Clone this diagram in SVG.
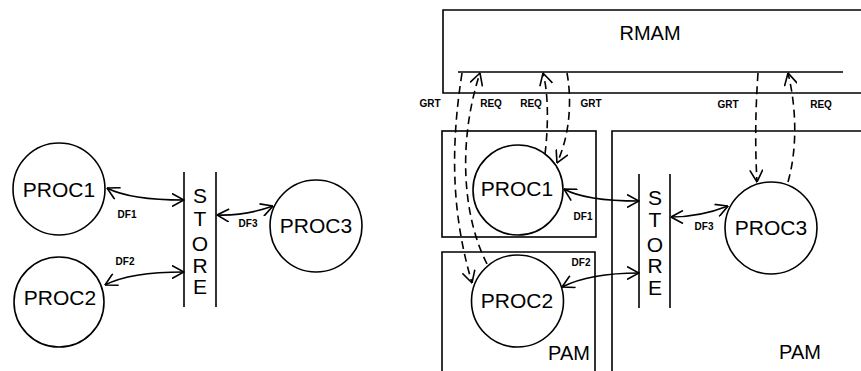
<svg xmlns="http://www.w3.org/2000/svg" width="861" height="371" viewBox="0 0 861 371">
<defs>
<marker id="ah" viewBox="0 0 13 14" refX="12.5" refY="7" markerWidth="13" markerHeight="14" markerUnits="userSpaceOnUse" orient="auto-start-reverse">
<path d="M0.5,0.5 L12.5,7 L0.5,13.5" fill="none" stroke="#000" stroke-width="1.6" stroke-linejoin="miter"/>
</marker>
<style>
.ln{fill:none;stroke:#000;stroke-width:1.6}
.fl{fill:none;stroke:#000;stroke-width:1.6;marker-start:url(#ah);marker-end:url(#ah)}
.ds{fill:none;stroke:#000;stroke-width:1.6;stroke-dasharray:8 5;marker-end:url(#ah)}
.big{font-family:"Liberation Sans",Arial,sans-serif;font-size:21px;fill:#000;text-anchor:middle}
.box{font-family:"Liberation Sans",Arial,sans-serif;font-size:20px;fill:#000;text-anchor:middle}
.sm{font-family:"Liberation Sans",Arial,sans-serif;font-size:10px;font-weight:bold;fill:#000;text-anchor:middle}
</style>
</defs>
<rect width="861" height="371" fill="#fff"/>

<!-- LEFT DIAGRAM -->
<g id="L_proc1"><circle class="ln" cx="59" cy="189" r="46"/><text class="big" x="59" y="197">PROC1</text></g>
<g id="L_proc2"><circle class="ln" cx="59" cy="302" r="45"/><text class="big" x="60" y="305">PROC2</text></g>
<g id="L_store">
<line class="ln" x1="184" y1="172" x2="184" y2="307"/><line class="ln" x1="216" y1="172" x2="216" y2="307"/>
<text class="big" x="200" y="203">S</text><text class="big" x="200" y="226">T</text><text class="big" x="200" y="251">O</text><text class="big" x="200" y="273">R</text><text class="big" x="200" y="294">E</text>
</g>
<g id="L_proc3"><circle class="ln" cx="316" cy="226" r="46"/><text class="big" x="316" y="233">PROC3</text></g>

<!-- RIGHT DIAGRAM -->
<g id="R_rmam">
<path class="ln" d="M870,10 H443 V93 H870"/>
<line class="ln" x1="458" y1="72" x2="843" y2="72"/>
<text class="box" x="650" y="40">RMAM</text>
</g>
<g id="R_pam1"><rect class="ln" x="442" y="131" width="154" height="106"/></g>
<g id="R_pam2"><path class="ln" d="M442,372 V252 H595 V372"/><text class="box" x="569" y="360">PAM</text></g>
<g id="R_pam3"><path class="ln" d="M612,372 V131 H870"/><text class="box" x="800" y="359">PAM</text></g>
<g id="R_proc1"><circle class="ln" cx="518" cy="190" r="45"/><text class="big" x="517" y="196">PROC1</text></g>
<g id="R_proc2"><circle class="ln" cx="517.5" cy="301" r="46"/><text class="big" x="517" y="308">PROC2</text></g>
<g id="R_store">
<line class="ln" x1="639" y1="174" x2="639" y2="308"/><line class="ln" x1="670" y1="174" x2="670" y2="308"/>
<text class="big" x="655" y="205">S</text><text class="big" x="655" y="227">T</text><text class="big" x="655" y="252">O</text><text class="big" x="655" y="273">R</text><text class="big" x="655" y="295">E</text>
</g>
<g id="R_proc3"><circle class="ln" cx="771" cy="228" r="46"/><text class="big" x="771" y="235">PROC3</text></g>

<!-- CONNECTORS -->
<g id="connectors">
<path class="fl" d="M107,188 Q130,200 184,200"/>
<path class="fl" d="M105,285 Q130,272 184,272"/>
<path class="fl" d="M217,215 Q245,216 273,206"/>
<path class="fl" d="M564,189 Q585,201 639,201"/>
<path class="fl" d="M562,287 Q590,273 639,273"/>
<path class="fl" d="M671,217 Q700,217 728,206"/>
<path class="ds" d="M462,73 C450,150 452,215 472,283"/>
<path class="ds" d="M487,264 C462,215 458,140 480,73"/>
<path class="ds" d="M545,154 C548,130 549,95 543,73"/>
<path class="ds" d="M567,73 C572,100 570,135 557,163"/>
<path class="ds" d="M758,73 Q754,130 757,182"/>
<path class="ds" d="M788,182 C797,150 797,110 788,73"/>
</g>

<g id="labels">
<text class="sm" x="127" y="218">DF1</text>
<text class="sm" x="125" y="265">DF2</text>
<text class="sm" x="248" y="227">DF3</text>
<text class="sm" x="583" y="220">DF1</text>
<text class="sm" x="581" y="266">DF2</text>
<text class="sm" x="704" y="230">DF3</text>
<text class="sm" x="430" y="107">GRT</text>
<text class="sm" x="491" y="107">REQ</text>
<text class="sm" x="531" y="107">REQ</text>
<text class="sm" x="591" y="107">GRT</text>
<text class="sm" x="728" y="108">GRT</text>
<text class="sm" x="821" y="108">REQ</text>
</g>
</svg>
